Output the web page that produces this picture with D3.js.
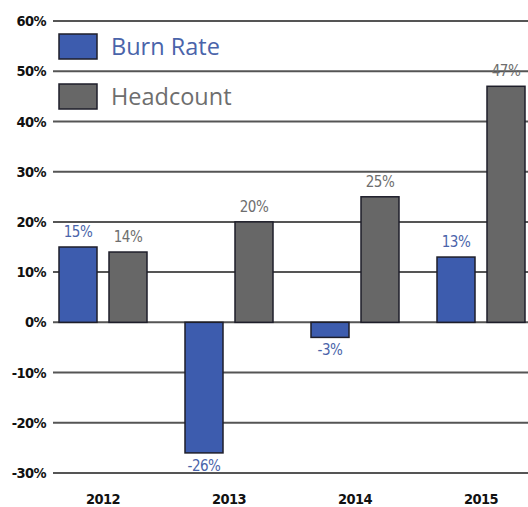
<!DOCTYPE html>
<html>
  <head>
    <meta charset="utf-8">
    <title>Burn Rate vs Headcount</title>
    <script type="text/javascript" src="https://d3js.org/d3.v7.min.js"></script>
    <style type="text/css">
      body { margin: 0; background: #fff; }
      text { font-family: "DejaVu Sans Condensed", "Liberation Sans Narrow", sans-serif; }
      .tick-label { font-weight: bold; font-size: 14.5px; fill: #111; letter-spacing: -0.6px; }
      .grid line { stroke: #555; stroke-width: 2px; }
    </style>
  </head>
  <body>
    <script type="text/javascript">
    // data
    var years = ["2012", "2013", "2014", "2015"];
    var burnRate = [15, -26, -3, 13];
    var headcount = [14, 20, 25, 47];
    var seriesNames = ["Burn Rate", "Headcount"];
    var yTicks = [60, 50, 40, 30, 20, 10, 0, -10, -20, -30];

    var width = 528, height = 507;
    var fills = ["#3d5cae", "#676767"];
    var labelColors = ["#4a64aa", "#6e6e6e"];

    var svg = d3.select("body").append("svg")
                .attr("width", width)
                .attr("height", height);

    var y = d3.scaleLinear().domain([-30, 60]).range([473, 21]);
    var x0 = d3.scaleBand().domain(years).range([40, 544]);
    var x1 = d3.scaleBand().domain(seriesNames).range([-44, 44]).paddingInner(0.24);

    // gridlines + y labels
    var grid = svg.append("g").attr("class", "grid");
    grid.selectAll("line")
        .data(yTicks)
        .enter().append("line")
        .attr("x1", 53).attr("x2", width)
        .attr("y1", d => y(d)).attr("y2", d => y(d));
    svg.append("g").selectAll("text")
       .data(yTicks)
       .enter().append("text")
       .attr("class", "tick-label")
       .attr("x", 46)
       .attr("y", d => y(d))
       .attr("dy", "0.35em")
       .attr("text-anchor", "end")
       .text(d => d + "%");

    // year labels
    svg.append("g").selectAll("text")
       .data(years)
       .enter().append("text")
       .attr("class", "tick-label")
       .attr("x", d => x0(d) + x0.bandwidth() / 2)
       .attr("y", 499)
       .attr("dy", "0.35em")
       .attr("text-anchor", "middle")
       .text(d => d);

    var series = [burnRate, headcount];
    series.forEach(function(vals, s) {
      var name = seriesNames[s];
      var g = svg.append("g");
      g.selectAll("rect")
       .data(vals)
       .enter().append("rect")
       .attr("x", (d, i) => x0(years[i]) + x0.bandwidth() / 2 + x1(name))
       .attr("width", x1.bandwidth())
       .attr("y", d => y(Math.max(0, d)))
       .attr("height", d => Math.abs(y(d) - y(0)))
       .attr("fill", fills[s])
       .attr("stroke", "#1e1e2a")
       .attr("stroke-width", 1.5);
      g.selectAll("text")
       .data(vals)
       .enter().append("text")
       .attr("x", (d, i) => x0(years[i]) + x0.bandwidth() / 2 + x1(name) + x1.bandwidth() / 2)
       .attr("y", d => d >= 0 ? y(d) - 10 : y(d) + 18)
       .attr("text-anchor", "middle")
       .attr("fill", labelColors[s])
       .style("font-size", "15px")
       .style("letter-spacing", "-0.5px")
       .text(d => d + "%");
    });

    // legend
    var legend = svg.append("g").selectAll("g")
                    .data(seriesNames)
                    .enter().append("g")
                    .attr("transform", (d, i) => "translate(59," + (34 + i * 50) + ")");
    legend.append("rect")
          .attr("width", 38).attr("height", 25)
          .attr("fill", (d, i) => fills[i])
          .attr("stroke", "#1e1e2a")
          .attr("stroke-width", 1.5);
    legend.append("text")
          .attr("x", 52).attr("y", 13)
          .attr("dy", "0.35em")
          .attr("fill", (d, i) => labelColors[i])
          .style("font-family", "'Open Sans', sans-serif")
          .style("font-size", "23.5px")
          .text(d => d);
    </script>
  </body>
</html>
